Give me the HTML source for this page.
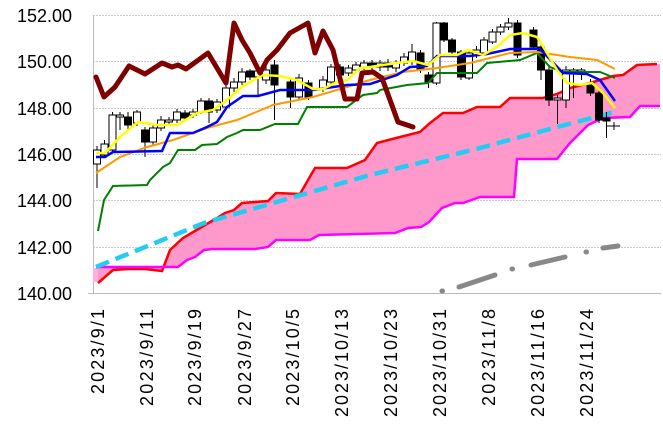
<!DOCTYPE html>
<html><head><meta charset="utf-8"><style>
html,body{margin:0;padding:0;background:#fff;}
svg{display:block;font-family:"Liberation Sans","Noto Sans CJK JP",sans-serif;}
</style></head><body>
<svg width="663" height="424" viewBox="0 0 663 424" xmlns="http://www.w3.org/2000/svg">
<rect width="663" height="424" fill="#fff"/>
<g stroke="#c8c8c8" stroke-width="1" stroke-dasharray="2,1">
<line x1="93" y1="15.5" x2="661" y2="15.5"/>
<line x1="93" y1="61.5" x2="661" y2="61.5"/>
<line x1="93" y1="108.5" x2="661" y2="108.5"/>
<line x1="93" y1="154.5" x2="661" y2="154.5"/>
<line x1="93" y1="200.5" x2="661" y2="200.5"/>
<line x1="93" y1="247.5" x2="661" y2="247.5"/>
</g>
<line x1="93.5" y1="15" x2="93.5" y2="293" stroke="#bbb"/>
<line x1="88" y1="293.5" x2="661" y2="293.5" stroke="#bbb"/>
<g font-size="18" text-anchor="end" fill="#000">
<text x="72" y="22">152.00</text>
<text x="72" y="68">150.00</text>
<text x="72" y="115">148.00</text>
<text x="72" y="161">146.00</text>
<text x="72" y="207">144.00</text>
<text x="72" y="254">142.00</text>
<text x="72" y="300">140.00</text>
</g>
<g font-size="18" text-anchor="end" fill="#000">
<text transform="translate(104,309) rotate(-90)" textLength="85" lengthAdjust="spacing">2023/9/1</text>
<text transform="translate(153,309) rotate(-90)" textLength="97" lengthAdjust="spacing">2023/9/11</text>
<text transform="translate(201,309) rotate(-90)" textLength="97" lengthAdjust="spacing">2023/9/19</text>
<text transform="translate(251,309) rotate(-90)" textLength="97" lengthAdjust="spacing">2023/9/27</text>
<text transform="translate(299,309) rotate(-90)" textLength="97" lengthAdjust="spacing">2023/10/5</text>
<text transform="translate(348,309) rotate(-90)" textLength="108" lengthAdjust="spacing">2023/10/13</text>
<text transform="translate(397,309) rotate(-90)" textLength="108" lengthAdjust="spacing">2023/10/23</text>
<text transform="translate(446,309) rotate(-90)" textLength="108" lengthAdjust="spacing">2023/10/31</text>
<text transform="translate(495,309) rotate(-90)" textLength="97" lengthAdjust="spacing">2023/11/8</text>
<text transform="translate(544,309) rotate(-90)" textLength="108" lengthAdjust="spacing">2023/11/16</text>
<text transform="translate(593,309) rotate(-90)" textLength="108" lengthAdjust="spacing">2023/11/24</text>
</g>
<!-- cloud -->
<polygon fill="#ff99cc" points="98,283 113,270 128,269 145,269 162,271 170,250 183,238 200,228 217,218 225,213 234,210 242,203 268,201 276,193 300,194 308,180 315,168 347,168 365,160 377,143 400,137 420,132 430,123 443,113 463,113 477,107 500,107 510,98 543,98 557,94 570,88 590,83 613,76 623,75 637,65 660,64 660,106 640,106 630,117 603,118 588,125 570,143 557,159 517,159 514,197 480,197 463,203 455,203 442,208 429,222 421,227 408,228 395,233 319,235 310,240 276,240 268,247 255,249 212,249 204,250 195,257 187,260 178,267 96,267"/>
<rect x="93" y="268" width="5" height="14" fill="#ffb0dd"/>
<polyline fill="none" stroke="#ff0000" stroke-width="2.5" points="98,283 113,270 128,269 145,269 162,271 170,250 183,238 200,228 217,218 225,213 234,210 242,203 268,201 276,193 300,194 308,180 315,168 347,168 365,160 377,143 400,137 420,132 430,123 443,113 463,113 477,107 500,107 510,98 543,98 557,94 570,88 590,83 613,76 623,75 637,65 657,64"/>
<polyline fill="none" stroke="#ff00ff" stroke-width="2.5" points="96,267 178,267 187,260 195,257 204,250 212,249 255,249 268,247 276,240 310,240 319,235 395,233 408,228 421,227 429,222 442,208 455,203 463,203 480,197 514,197 517,159 557,159 570,143 588,125 603,118 630,117 640,106 660,106"/>
<g stroke="#888" stroke-width="5" stroke-linecap="round" fill="none">
<line x1="442" y1="291" x2="442.5" y2="291"/>
<line x1="459" y1="287" x2="495" y2="275"/>
<line x1="512" y1="269" x2="512.5" y2="269"/>
<line x1="531" y1="265" x2="565" y2="257"/>
<line x1="586" y1="252" x2="586.5" y2="252"/>
<line x1="603" y1="248" x2="618" y2="246"/>
</g>
<polyline fill="none" stroke="#22ccf2" stroke-width="4.5" stroke-dasharray="14,7" points="96,267 204,223 370,175 480,148 557,127 615,112"/>
<!-- candles -->
<g stroke="#000" stroke-width="1">
<line x1="97" y1="146" x2="97" y2="188"/><rect x="93.5" y="150" width="7" height="14" fill="#fff"/>
<line x1="104.5" y1="140" x2="104.5" y2="158"/><rect x="101" y="144" width="7" height="11" fill="#fff"/>
<line x1="112.5" y1="112" x2="112.5" y2="153"/><rect x="109" y="115" width="7" height="35" fill="#fff"/>
<line x1="120" y1="112" x2="120" y2="130"/><rect x="116.5" y="115" width="7" height="2" fill="#fff"/>
<line x1="128" y1="112" x2="128" y2="130"/><rect x="124.5" y="117" width="7" height="8" fill="#000"/>
<line x1="137" y1="110" x2="137" y2="126"/><rect x="133.5" y="112" width="7" height="11" fill="#fff"/>
<line x1="145" y1="127" x2="145" y2="157"/><rect x="141.5" y="130" width="7" height="12" fill="#000"/>
<line x1="153" y1="124" x2="153" y2="145"/><rect x="149.5" y="128" width="7" height="14" fill="#fff"/>
<line x1="161" y1="116" x2="161" y2="131"/><rect x="157.5" y="120" width="7" height="8" fill="#fff"/>
<line x1="169" y1="117" x2="169" y2="126"/><rect x="165.5" y="120" width="7" height="2" fill="#fff"/>
<line x1="177" y1="109" x2="177" y2="123"/><rect x="173.5" y="112" width="7" height="8" fill="#fff"/>
<line x1="185" y1="110" x2="185" y2="121"/><rect x="181.5" y="113" width="7" height="5" fill="#000"/>
<line x1="193" y1="109" x2="193" y2="118"/><rect x="189.5" y="112" width="7" height="3" fill="#fff"/>
<line x1="201" y1="98" x2="201" y2="114"/><rect x="197.5" y="101" width="7" height="11" fill="#fff"/>
<line x1="209" y1="98" x2="209" y2="123"/><rect x="205.5" y="101" width="7" height="11" fill="#000"/>
<line x1="217" y1="99" x2="217" y2="113"/><rect x="213.5" y="102" width="7" height="8" fill="#fff"/>
<line x1="226" y1="84" x2="226" y2="110"/><rect x="222.5" y="88" width="7" height="19" fill="#fff"/>
<line x1="234" y1="78" x2="234" y2="92"/><rect x="230.5" y="82" width="7" height="6" fill="#fff"/>
<line x1="242" y1="68" x2="242" y2="85"/><rect x="238.5" y="72" width="7" height="10" fill="#fff"/>
<line x1="250" y1="69" x2="250" y2="80"/><rect x="246.5" y="71" width="7" height="6" fill="#000"/>
<line x1="258" y1="68" x2="258" y2="95"/><rect x="254.5" y="71" width="7" height="6" fill="#fff"/>
<line x1="266" y1="66" x2="266" y2="84"/><rect x="262.5" y="70" width="7" height="10" fill="#fff"/>
<line x1="274.5" y1="60" x2="274.5" y2="120"/><rect x="271" y="65" width="7" height="20" fill="#000"/>
<line x1="290.5" y1="78" x2="290.5" y2="108"/><rect x="287" y="82" width="7" height="15" fill="#000"/>
<line x1="299" y1="74" x2="299" y2="100"/><rect x="295.5" y="78" width="7" height="19" fill="#fff"/>
<line x1="308.5" y1="80" x2="308.5" y2="100"/><rect x="305" y="83" width="7" height="14" fill="#000"/>
<line x1="323" y1="76" x2="323" y2="92"/><rect x="319.5" y="80" width="7" height="8" fill="#fff"/>
<line x1="331" y1="64" x2="331" y2="85"/><rect x="327.5" y="67" width="7" height="15" fill="#fff"/>
<line x1="340" y1="64" x2="340" y2="78"/><rect x="336.5" y="67" width="7" height="8" fill="#000"/>
<line x1="348.5" y1="65" x2="348.5" y2="76"/><rect x="345" y="68" width="7" height="5" fill="#fff"/>
<line x1="356" y1="62" x2="356" y2="73"/><rect x="352.5" y="65" width="7" height="5" fill="#fff"/>
<line x1="364" y1="60" x2="364" y2="70"/><rect x="360.5" y="63" width="7" height="4" fill="#fff"/>
<line x1="372" y1="60" x2="372" y2="70"/><rect x="368.5" y="63" width="7" height="4" fill="#000"/>
<line x1="380" y1="60" x2="380" y2="71"/><rect x="376.5" y="63" width="7" height="4" fill="#fff"/>
<line x1="388" y1="59" x2="388" y2="71"/><rect x="384.5" y="63" width="7" height="4" fill="#000"/>
<line x1="396" y1="60" x2="396" y2="72"/><rect x="392.5" y="63" width="7" height="5" fill="#fff"/>
<line x1="404" y1="53" x2="404" y2="66"/><rect x="400.5" y="57" width="7" height="6" fill="#fff"/>
<line x1="412" y1="44" x2="412" y2="65"/><rect x="408.5" y="52" width="7" height="10" fill="#fff"/>
<line x1="420.5" y1="50" x2="420.5" y2="73"/><rect x="417" y="53" width="7" height="17" fill="#000"/>
<line x1="428.5" y1="72" x2="428.5" y2="88"/><rect x="425" y="75" width="7" height="7" fill="#000"/>
<line x1="436.5" y1="22" x2="436.5" y2="85"/><rect x="433" y="23" width="7" height="60" fill="#fff"/>
<line x1="444" y1="22" x2="444" y2="42"/><rect x="440.5" y="23" width="7" height="17" fill="#000"/>
<line x1="452" y1="38" x2="452" y2="56"/><rect x="448.5" y="40" width="7" height="12" fill="#000"/>
<line x1="461" y1="50" x2="461" y2="80"/><rect x="457.5" y="52" width="7" height="25" fill="#000"/>
<line x1="469" y1="50" x2="469" y2="80"/><rect x="465.5" y="53" width="7" height="25" fill="#fff"/>
<line x1="476.5" y1="46" x2="476.5" y2="58"/><rect x="473" y="50" width="7" height="5" fill="#fff"/>
<line x1="484" y1="37" x2="484" y2="56"/><rect x="480.5" y="40" width="7" height="13" fill="#fff"/>
<line x1="492.5" y1="29" x2="492.5" y2="44"/><rect x="489" y="32" width="7" height="10" fill="#fff"/>
<line x1="500.5" y1="24" x2="500.5" y2="35"/><rect x="497" y="27" width="7" height="5" fill="#fff"/>
<line x1="508.5" y1="18" x2="508.5" y2="30"/><rect x="505" y="23" width="7" height="4" fill="#fff"/>
<line x1="517.5" y1="20" x2="517.5" y2="58"/><rect x="514" y="23" width="7" height="32" fill="#000"/>
<line x1="533.5" y1="27" x2="533.5" y2="50"/><rect x="530" y="30" width="7" height="17" fill="#000"/>
<line x1="541" y1="44" x2="541" y2="80"/><rect x="537.5" y="47" width="7" height="23" fill="#000"/>
<line x1="549" y1="66" x2="549" y2="106"/><rect x="545.5" y="70" width="7" height="30" fill="#000"/>
<line x1="557.5" y1="95" x2="557.5" y2="124"/><rect x="554" y="98" width="7" height="2" fill="#fff"/>
<line x1="566" y1="66" x2="566" y2="108"/><rect x="562.5" y="70" width="7" height="30" fill="#fff"/>
<line x1="573.5" y1="68" x2="573.5" y2="98"/><rect x="570" y="70" width="7" height="3" fill="#fff"/>
<line x1="581.5" y1="68" x2="581.5" y2="80"/><rect x="578" y="70" width="7" height="3" fill="#fff"/>
<line x1="590.5" y1="79" x2="590.5" y2="96"/><rect x="587" y="83" width="7" height="10" fill="#000"/>
<line x1="599" y1="90" x2="599" y2="123"/><rect x="595.5" y="93" width="7" height="27" fill="#000"/>
<line x1="606.5" y1="112" x2="606.5" y2="138"/><rect x="603" y="118" width="7" height="3" fill="#000"/>
<line x1="614" y1="122" x2="614" y2="130"/><line x1="607" y1="126" x2="620" y2="126"/>
</g>
<!-- moving averages -->
<polyline fill="none" stroke="#008000" stroke-width="2" points="98,231 104,200 113,186 147,185 150,180 163,167 170,163 178,150 195,150 202,145 217,144 227,137 237,133 243,130 260,130 275,124 298,124 307,107 347,107 363,95 377,93 380,90 407,85 428,83 437,73 477,73 487,63 520,60 537,53 550,67 563,72 600,72 615,78"/>
<polyline fill="none" stroke="#ff9900" stroke-width="2" points="96,173 120,157 147,147 173,140 207,128 237,120 273,105 313,97 347,87 370,80 403,72 437,68 470,63 510,53 537,52 570,57 597,60 615,69"/>
<polyline fill="none" stroke="#0000ff" stroke-width="2.5" points="96,157 105,157 113,152 162,151 170,133 193,133 207,127 217,122 227,107 243,96 258,96 280,90 313,90 347,85 370,84 397,75 410,67 427,66 437,56 470,56 487,54 510,49 540,49 563,73 587,74 600,80 615,101"/>
<polyline fill="none" stroke="#ffff00" stroke-width="2.5" points="96,153 105,153 120,137 138,122 157,125 177,125 197,113 213,110 227,100 243,86 263,75 280,76 297,80 313,89 323,89 337,82 347,80 360,68 370,67 383,65 397,63 413,61 428,65 440,55 457,55 468,50 483,55 497,47 510,35 523,33 537,37 547,53 557,70 567,83 580,85 592,83 603,93 615,108"/>
<polyline fill="none" stroke="#800000" stroke-width="5" stroke-linejoin="round" stroke-linecap="round" points="96,77 104,97 115,87 129,66 145,74 162,63 172,67 178,65 186,69 208,53 226,83 234,23 242,40 250,53 260,73 267,60 277,50 290,33 308,23 315,53 323,31 333,50 345,99 357,99 362,73 373,72 382,78 390,100 398,122 413,127"/>
</svg>
</body></html>
